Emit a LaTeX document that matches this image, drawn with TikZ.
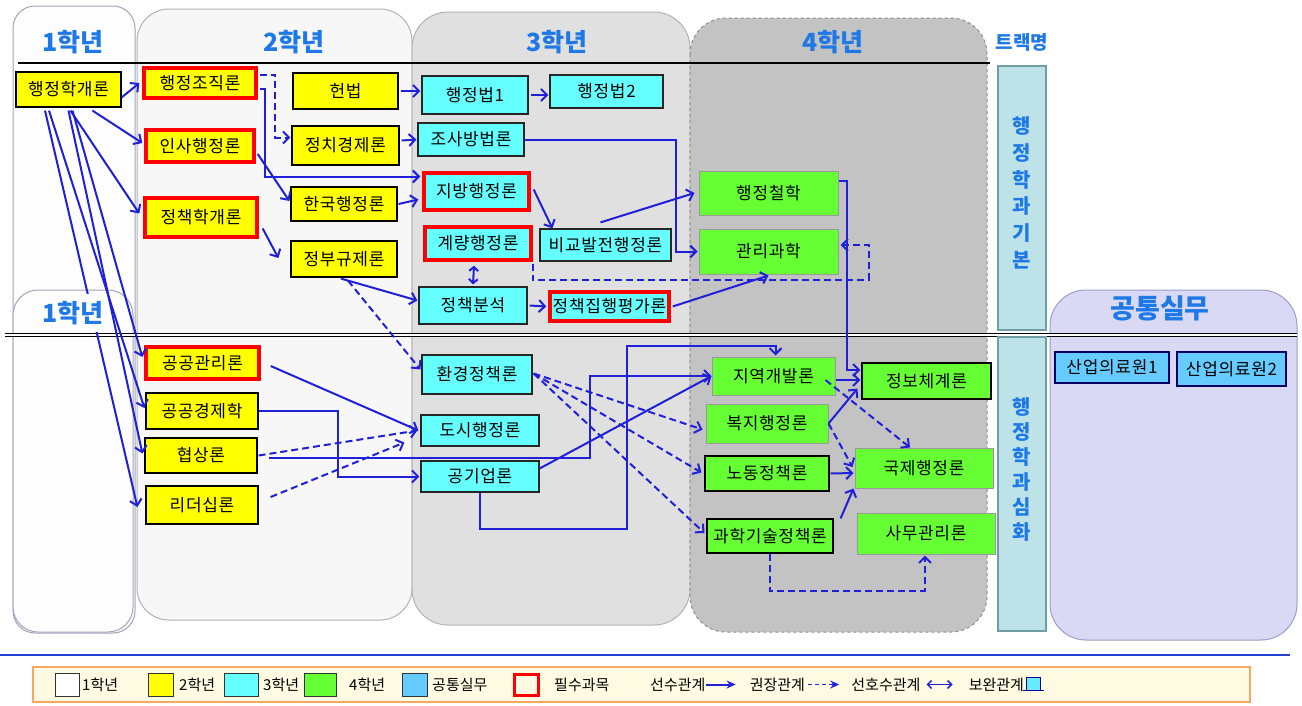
\documentclass[tikz,border=0pt]{standalone}
\usepackage{fontspec}
\setmainfont{Noto Sans CJK KR}
\usetikzlibrary{arrows.meta,calc}
\definecolor{yel}{HTML}{FFFF00}
\definecolor{cyn}{HTML}{66FFFF}
\definecolor{grn}{HTML}{66FF33}
\definecolor{cmn}{HTML}{66CCFF}
\definecolor{arb}{HTML}{2020D8}
\definecolor{hdr}{HTML}{1E78E6}
\definecolor{rd}{HTML}{FF0000}
\definecolor{pone}{HTML}{FDFDFD}
\definecolor{ptwo}{HTML}{F7F7F7}
\definecolor{pthree}{HTML}{E0E0E0}
\definecolor{pfour}{HTML}{C3C3C3}
\definecolor{pcom}{HTML}{D9D9F6}
\definecolor{trk}{HTML}{BDE3E8}
\definecolor{trkb}{HTML}{6F9EA5}
\definecolor{lgbg}{HTML}{FFFBE3}
\definecolor{lgbd}{HTML}{F5A860}
\definecolor{bline}{HTML}{2040D0}
\newcommand\mybox[7]{\node[#1, minimum width={(#5)-(#3)}, minimum height={(#6)-(#4)}] (#2) at ({((#3)+(#5))/2},{((#4)+(#6))/2}) {#7};}
\begin{document}
\begin{tikzpicture}[x=1pt,y=-1pt,
  bx/.style={inner sep=0pt, font=\fontsize{17}{17}\selectfont\addfontfeature{LetterSpace=4}, text=black},
  yb/.style={bx, fill=yel, draw=black, line width=1.2pt},
  yr/.style={bx, fill=yel, draw=rd, line width=3.4pt},
  cb/.style={bx, fill=cyn, draw=black!85, line width=1.2pt},
  cr/.style={bx, fill=cyn, draw=rd, line width=3.4pt},
  gb/.style={bx, fill=grn, draw=gray!80, line width=1pt},
  gk/.style={bx, fill=grn, draw=black, line width=1.2pt},
  mb/.style={bx, fill=cmn, draw=black!60!blue, line width=1.2pt},
  con/.style={draw=arb, line width=2pt, -{Straight Barb[length=6pt,width=12pt]}},
  dcon/.style={con, dash pattern=on 7pt off 4pt},
  hd/.style={text=hdr, font=\fontsize{25}{25}\selectfont\bfseries},
  panel/.style={line width=1pt},
  lsq/.style={draw=black!80, line width=1pt},
  lt/.style={font=\fontsize{15}{15}\selectfont, anchor=west, inner sep=0pt},
  tl/.style={text=hdr, font=\fontsize{20}{26.7}\selectfont\bfseries, align=center, inner sep=0pt}
]
\useasboundingbox (0,0) rectangle (1302,705);
\fill[white] (0,0) rectangle (1302,705);
% panels
\draw[panel, fill=pone, draw=black!20!blue!20!gray!60, rounded corners=22] (13,6) rectangle (135,633);
\draw[panel, fill=pone, draw=black!20!blue!20!gray!60, rounded corners=25] (13,290) rectangle (133,632);
\draw[panel, fill=ptwo, draw=gray!60, rounded corners=32] (137,9) rectangle (412,620);
\draw[panel, fill=pthree, draw=gray!60, rounded corners=36] (412,12) rectangle (690,625);
\draw[panel, fill=pfour, draw=gray!90, dashed, rounded corners=36] (690,18) rectangle (987,632);
\draw[panel, fill=pcom, draw=blue!30!gray!60, rounded corners=36] (1050,290) rectangle (1297,640);
% lines
\draw[line width=2.5pt] (18,63) -- (990,63);
\draw[double, double distance=2pt, line width=1.3pt] (5,335) -- (1297,335);
\draw[line width=2.5pt, bline] (0,655) -- (1290,655);
% track bars
\draw[fill=trk, draw=trkb, line width=2.5pt] (998,66) rectangle (1046,330);
\draw[fill=trk, draw=trkb, line width=2.5pt] (998,337) rectangle (1046,631);
\node[tl] (t1) at (1022,193) {행\\정\\학\\과\\기\\본};
\node[tl, font=\fontsize{20}{25}\selectfont\bfseries] (t2) at (1022,470) {행\\정\\학\\과\\심\\화};
% headers
\node[hd] (h1) at (73,42) {1학년};
\node[hd] (h2) at (294,42) {2학년};
\node[hd] (h3) at (557,42) {3학년};
\node[hd] (h4) at (833,42) {4학년};
\node[hd, font=\fontsize{19}{19}\selectfont\bfseries] (htr) at (1022,42) {트랙명};
\node[hd, font=\fontsize{27}{27}\selectfont\bfseries] (hcom) at (1160,308) {공통실무};
% nodes
\mybox{yb}{gaeron}{16}{72}{121}{107}{행정학개론}
\mybox{yr}{jojik}{144}{68}{256}{98}{행정조직론}
\mybox{yr}{insa}{146}{130}{254}{162}{인사행정론}
\mybox{yr}{jcgaeron}{145}{198}{257}{237}{정책학개론}
\mybox{yb}{heonbeop}{293}{73}{398}{109}{헌법}
\mybox{yb}{jeongchi}{292}{126}{399}{165}{정치경제론}
\mybox{yb}{hanguk}{291}{187}{397}{221}{한국행정론}
\mybox{yb}{gyuje}{291}{241}{397}{277}{정부규제론}
\mybox{yr}{gonggwan}{146}{347}{259}{379}{공공관리론}
\mybox{yb}{gonggyeong}{146}{393}{258}{429}{공공경제학}
\mybox{yb}{hyeopsang}{145}{438}{257}{473}{협상론}
\mybox{yb}{leader}{146}{486}{258}{524}{리더십론}
\mybox{cb}{hbone}{422}{76}{528}{114}{행정법1}
\mybox{cb}{hbtwo}{550}{75}{663}{108}{행정법2}
\mybox{cb}{josa}{418}{123}{524}{156}{조사방법론}
\mybox{cr}{jibang}{424}{173}{529}{210}{지방행정론}
\mybox{cr}{gyeryang}{425}{227}{531}{260}{계량행정론}
\mybox{cb}{bigyo}{540}{229}{671}{261}{비교발전행정론}
\mybox{cb}{bunseok}{419}{287}{527}{324}{정책분석}
\mybox{cr}{jiphaeng}{550}{292}{669}{321}{정책집행평가론}
\mybox{cb}{hwangyeong}{422}{355}{532}{394}{환경정책론}
\mybox{cb}{dosi}{421}{415}{539}{446}{도시행정론}
\mybox{cb}{gonggieop}{421}{461}{539}{492}{공기업론}
\mybox{gb}{cheolhak}{699}{171}{838}{215}{행정철학}
\mybox{gb}{gwanri}{699}{229}{838}{274}{관리과학}
\mybox{gb}{jiyeok}{712}{357}{835}{395}{지역개발론}
\mybox{gb}{bokji}{706}{404}{828}{443}{복지행정론}
\mybox{gk}{nodong}{705}{456}{829}{491}{노동정책론}
\mybox{gk}{gwahak}{707}{519}{833}{553}{과학기술정책론}
\mybox{gk}{jeongbo}{862}{363}{991}{399}{정보체계론}
\mybox{gb}{gukje}{855}{448}{993}{488}{국제행정론}
\mybox{gb}{samu}{857}{513}{995}{554}{사무관리론}
\mybox{mb}{sanupone}{1055}{352}{1169}{383}{산업의료원1}
\mybox{mb}{sanuptwo}{1177}{352}{1286}{386}{산업의료원2}
% connectors year 1
\draw[con] ($(gaeron.east)+(0,8)$) -- ($(jojik.west)+(-3,0)$);
\draw[con] ($(gaeron.south)+(24,3)$) -- ($(insa.west)+(-2,-3)$);
\draw[con] ($(gaeron.south)+(2,3)$) -- ($(jcgaeron.west)+(-4,-4)$);
\draw[con] ($(gaeron.south)+(4,3)$) -- ($(gonggwan.west)+(-2,-6)$);
\draw[con] ($(gaeron.south)+(-19.5,3)$) -- ($(gonggyeong.west)+(-1,-3)$);
\draw[con] ($(gaeron.south)+(0,3)$) -- ($(hyeopsang.west)+(-2,-2)$);
\draw[con] ($(gaeron.south)+(-23.5,3)$) -- ($(leader.west)+(-8,2)$);
% year 2
\draw[dcon] ($(jojik.east)+(2,-8)$) -| ($(jeongchi.west)+(-16,-8)$) -- ($(jeongchi.west)+(-1,-8)$);
\draw[con] ($(jojik.east)+(2,6)$) -| ($(jibang.west)+(-157,-15)$) -- ($(jibang.west)+(-2,-15)$);
\draw[con] ($(insa.east)+(2,8)$) -- ($(hanguk.west)+(-1,-3)$);
\draw[con] ($(jcgaeron.east)+(4,11)$) -- ($(gyuje.west)+(-12,-1)$);
\draw[con] ($(heonbeop.east)+(2,0)$) -- ($(hbone.west |- heonbeop.east)+(-1,0)$);
\draw[con] ($(jeongchi.east)+(2,-5)$) -- ($(josa.west)+(-1,0)$);
\draw[con] ($(hanguk.east)+(1,0)$) -- ($(jibang.west)+(-4,8)$);
\draw[con] ($(gyuje.south)+(-3,1)$) -- ($(bunseok.west)+(-1,-5)$);
\draw[dcon] ($(gyuje.south)+(4,3)$) -- ($(hwangyeong.west)+(-1,-5)$);
\draw[con] ($(gonggwan.east)+(10,3)$) -- ($(dosi.west)+(-2,0)$);
\draw[con] (gonggyeong.east) -| ($(gonggieop.west)+(-82,0)$) -- ($(gonggieop.west)+(-1,0)$);
\draw[dcon] ($(hyeopsang.east)+(1,0)$) -- ($(dosi.west)+(-3,0)$);
\draw[dcon] ($(leader.east)+(12,-8)$) -- ($(dosi.west)+(-16,12)$);
\draw[con] ($(hyeopsang.east)+(11,2)$) -| ($(jiyeok.west)+(-122,0)$) -- (jiyeok.west);
% year 3
\draw[con] ($(hbone.east)+(2,0)$) -- ($(hbtwo.west |- hbone.east)+(-1,0)$);
\draw[con] (josa.east) -| ($(gwanri.west)+(-23,0)$) -- ($(gwanri.west)+(-1,0)$);
\draw[con] ($(jibang.east)+(3,-2)$) -- ($(bigyo.north west)+(13,0)$);
\draw[con] ($(bigyo.north)+(-5,-6)$) -- ($(cheolhak.west)+(-4,0)$);
\draw[arb, line width=2pt, {Straight Barb[length=4pt,width=9pt]}-{Straight Barb[length=4pt,width=9pt]}] ($(gyeryang.south)+(-4,4)$) -- ($(bunseok.north)+(0,-2)$);
\draw[con] ($(bunseok.east)+(2,0)$) -- ($(jiphaeng.west)+(-2,0)$);
\draw[con] ($(jiphaeng.east)+(2,0)$) -- ($(gwanri.south)+(0,1)$);
\draw[dcon] ($(gyeryang.south east)+(0,2)$) |- ($(gwanri.east)+(30,28.5)$) |- ($(gwanri.east)+(2,-6.5)$);
\draw[con] ($(gonggieop.east)+(0,-8)$) -- (jiyeok.west);
\draw[con] (gonggieop.south) |- ($(jiyeok.north)+(-147,172)$) |- ($(jiyeok.north)+(2,-11)$) -- ($(jiyeok.north)+(2,-1)$);
\draw[dcon] ($(hwangyeong.east)+(1,-1)$) -- ($(bokji.west)+(-3,6)$);
\draw[dcon] ($(hwangyeong.east)+(1,-1)$) -- ($(nodong.west)+(-3,-1)$);
\draw[dcon] ($(hwangyeong.east)+(1,-1)$) -- ($(gwahak.west)+(-2,-3)$);
% year 4
\draw[con] ($(cheolhak.east)+(0,-12)$) -| ($(jeongbo.west)+(-14,-11)$) -- ($(jeongbo.west)+(-1,-11)$);
\draw[con] ($(jiyeok.east)+(0,4)$) -- ($(jeongbo.west)+(-1,-1)$);
\draw[dcon] ($(jiyeok.east)+(-10,4)$) -- ($(gukje.north)+(-14,0)$);
\draw[con] (bokji.east) -- ($(jeongbo.south west)+(-4,-11)$);
\draw[dcon] (bokji.east) -- ($(gukje.west)+(-2,-1)$);
\draw[con] ($(nodong.east)+(1,0)$) -- ($(gukje.west)+(-1,5)$);
\draw[con] ($(gwahak.north east)+(7,0)$) -- ($(gukje.south west)+(-1,0)$);
\draw[dcon] (gwahak.south) |- ($(samu.south)+(-1,36)$) -- ($(samu.south)+(-1,1)$);
% second 1st-year label on top of lines
\node[hd, fill=pone, inner sep=0pt, minimum width=64, minimum height=38] (h1b) at (73,313) {1학년};
% legend
\draw[fill=lgbg, draw=lgbd, line width=2pt] (33,667) rectangle (1250,702);
\mybox{lsq, fill=white}{lga}{55}{673}{79}{696}{}
\node[lt] (lta) at (82,684.5) {1학년};
\mybox{lsq, fill=yel}{lgb}{148}{673}{173}{696}{}
\node[lt] (ltb) at (179,684.5) {2학년};
\mybox{lsq, fill=cyn}{lgc}{224}{673}{258}{696}{}
\node[lt] (ltc) at (263,684.5) {3학년};
\mybox{lsq, fill=grn}{lgd}{304}{673}{336}{696}{}
\node[lt] (ltd) at (349,684.5) {4학년};
\mybox{lsq, fill=cmn}{lge}{402}{673}{427}{696}{}
\node[lt] (lte) at (432,684.5) {공통실무};
\mybox{draw=rd, line width=3pt}{lgf}{514}{674}{538}{695}{}
\node[lt] (ltf) at (554,684.5) {필수과목};
\node[lt] (ltg) at (650,684.5) {선수관계};
\coordinate (ag) at ($(ltg.east)+(30,0)$);
\draw[arb, line width=2pt, -{Stealth[length=9pt,width=8pt]}] (ltg.east) -- (ag);
\node[lt] (lth) at ($(ag)+(14,0)$) {권장관계};
\coordinate (ah) at ($(lth.east)+(34,0)$);
\draw[arb, line width=1.5pt, dash pattern=on 4pt off 3pt, -{Stealth[length=9pt,width=8pt]}] ($(lth.east)+(3,0)$) -- (ah);
\node[lt] (lti) at ($(ah)+(12,0)$) {선호수관계};
\coordinate (ai) at ($(lti.east)+(32,0)$);
\draw[arb, line width=1.5pt, {Straight Barb[length=4pt,width=8pt]}-{Straight Barb[length=4pt,width=8pt]}] ($(lti.east)+(6,0)$) -- (ai);
\node[lt] (ltj) at ($(ai)+(16,0)$) {보완관계};
\draw[fill=cyn!60!cmn, draw=blue!60!black, line width=0.8pt] ($(ltj.east)+(2,-7)$) rectangle ($(ltj.east)+(16,6)$);
\draw[draw=blue!60!black, line width=0.8pt] ($(ltj.east)+(-1,6)$) -- ($(ltj.east)+(20,6)$);
\end{tikzpicture}
\end{document}
